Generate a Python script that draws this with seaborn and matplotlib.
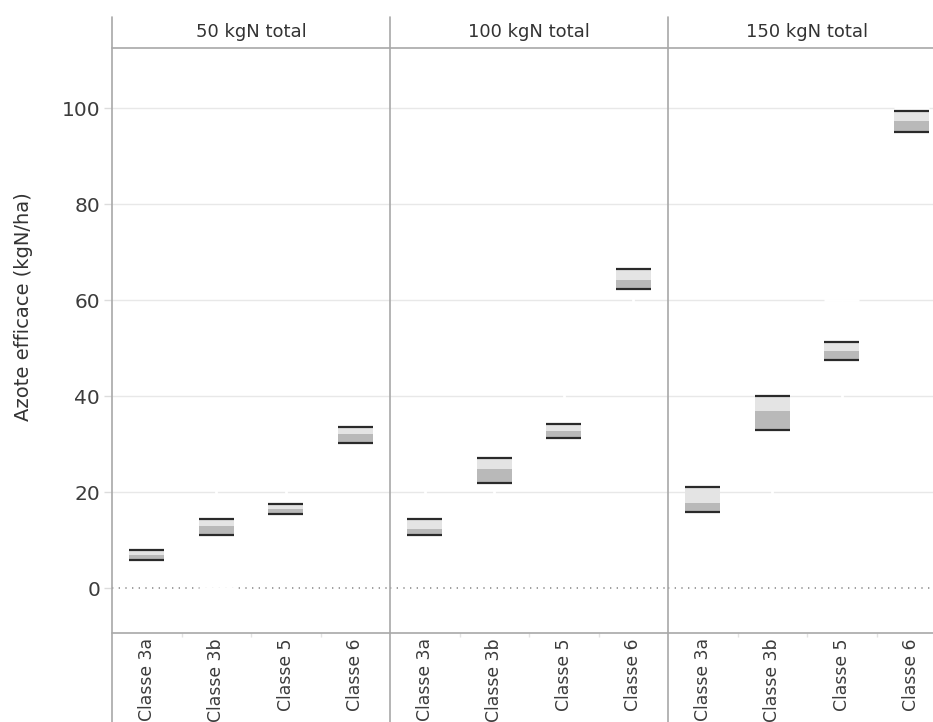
import numpy as np
import pandas as pd
import matplotlib
matplotlib.use("Agg")
import matplotlib.pyplot as plt
from matplotlib.lines import Line2D
import seaborn as sns

totals = ["50 kgN total", "100 kgN total", "150 kgN total"]
classes = ["Classe 3a", "Classe 3b", "Classe 5", "Classe 6"]

# Lower hinge, median and upper hinge of each box (kgN/ha)
q1_50 = [5.9, 11.0, 15.5, 30.3]
med_50 = [6.9, 13.0, 16.4, 32.1]
q3_50 = [7.9, 14.3, 17.5, 33.6]

q1_100 = [11.0, 21.9, 31.2, 62.4]
med_100 = [12.4, 24.9, 32.7, 64.2]
q3_100 = [14.3, 27.2, 34.2, 66.4]

q1_150 = [15.8, 32.9, 47.6, 95.1]
med_150 = [17.8, 36.9, 49.4, 97.4]
q3_150 = [21.1, 40.1, 51.2, 99.4]

# Whisker ends
wlo_50 = [5.0, 0.0, 12.0, 27.0]
whi_50 = [9.5, 23.0, 21.5, 37.0]
wlo_100 = [8.0, 17.0, 26.0, 57.0]
whi_100 = [21.0, 31.0, 42.0, 70.0]
wlo_150 = [12.0, 16.0, 36.0, 88.0]
whi_150 = [25.0, 45.0, 60.0, 100.0]

y_ticks = [0, 20, 40, 60, 80, 100]

rows = []
for tot, q1, md, q3, wl, wh in [
    (totals[0], q1_50, med_50, q3_50, wlo_50, whi_50),
    (totals[1], q1_100, med_100, q3_100, wlo_100, whi_100),
    (totals[2], q1_150, med_150, q3_150, wlo_150, whi_150),
]:
    for i, c in enumerate(classes):
        rows.append(dict(total=tot, classe=c, q1=q1[i], med=md[i], q3=q3[i],
                         wlo=wl[i], whi=wh[i]))
df = pd.DataFrame(rows)

sns.set_theme(style="white")
plt.rcParams["font.family"] = ["DejaVu Sans"]

W, H = 933, 722
BOX_W = 0.51
DARK = "#b9b9b9"
LIGHT = "#e4e4e4"
EDGE = "#2a2a2a"
FRAME = "#a8a8a8"
TEXT = "#3c3c3c"


def draw_boxes(data, color=None, **kws):
    ax = plt.gca()
    x = np.array([classes.index(c) for c in data["classe"]], dtype=float)
    lo, hi = x - BOX_W / 2, x + BOX_W / 2
    # whiskers are drawn in white
    ax.vlines(x, data["wlo"], data["q1"], color="white", lw=2, zorder=2)
    ax.vlines(x, data["q3"], data["whi"], color="white", lw=2, zorder=2)
    ax.hlines(data["wlo"], lo, hi, color="white", lw=2, zorder=2)
    ax.hlines(data["whi"], lo, hi, color="white", lw=2, zorder=2)
    # two-tone box
    ax.bar(x, data["med"] - data["q1"], bottom=data["q1"], width=BOX_W,
           color=DARK, linewidth=0, zorder=3)
    ax.bar(x, data["q3"] - data["med"], bottom=data["med"], width=BOX_W,
           color=LIGHT, linewidth=0, zorder=3)
    ax.hlines(data["q3"], lo, hi, color=EDGE, lw=1.6, zorder=4)
    ax.hlines(data["q1"], lo, hi, color=EDGE, lw=1.6, zorder=4)


g = sns.FacetGrid(df, col="total", col_order=totals, sharey=True, sharex=True,
                  height=7.22, aspect=0.43)
g.map_dataframe(draw_boxes)
g.set_titles("")
g.set_axis_labels("", "")

fig = g.figure
fig.set_size_inches(W / 100, H / 100)

left_px, panel_px = 112, 278
top_px, bottom_px = 47.7, 632.7
for i, ax in enumerate(g.axes.flat):
    ax.set_position([(left_px + i * panel_px) / W, (H - bottom_px) / H,
                     panel_px / W, (bottom_px - top_px) / H])
    ax.set_xlim(-0.5, 3.5)
    ax.set_ylim(-9.3, 112.6)
    for s in ax.spines.values():
        s.set_visible(False)
    for yv in y_ticks[1:]:
        ax.axhline(yv, color="#e8e8e8", lw=1, zorder=1)
    ax.axhline(0, color="#8f8f8f", lw=1.2, ls=(0, (0.8, 3.2)), zorder=1)
    ax.set_xticks(range(len(classes)))
    ax.set_xticklabels(classes, rotation=90, va="top", ha="center",
                       fontsize=12.4, color=TEXT)
    ax.set_xticks([0.5, 1.5, 2.5], minor=True)
    ax.tick_params(axis="x", which="major", length=0, pad=4.0)
    ax.tick_params(axis="x", which="minor", length=3, color="#e3e3e3",
                   width=1, bottom=True)
    ax.set_yticks(y_ticks)
    if i == 0:
        ax.tick_params(axis="y", left=True, length=5.5, width=1,
                       color="#dcdcdc", labelsize=14.5, labelcolor=TEXT,
                       pad=3)
    else:
        ax.tick_params(axis="y", left=False, labelleft=False)
    fig.text((left_px + (i + 0.5) * panel_px) / W, (H - 32) / H, totals[i],
             ha="center", va="center", fontsize=13, color="#333333")

# frame: panel dividers, header rule and axis rule
for xp in [left_px, left_px + panel_px, left_px + 2 * panel_px]:
    fig.add_artist(Line2D([xp / W, xp / W], [0, (H - 17) / H],
                          color=FRAME, lw=1.2, transform=fig.transFigure))
for yp in [top_px, bottom_px]:
    fig.add_artist(Line2D([left_px / W, 1], [(H - yp) / H, (H - yp) / H],
                          color=FRAME, lw=1.2, transform=fig.transFigure))

fig.text(24 / W, (H - 307) / H, "Azote efficace (kgN/ha)", rotation=90,
         ha="center", va="center", fontsize=14, color="#333333")

fig.savefig("out.png", dpi=100)
